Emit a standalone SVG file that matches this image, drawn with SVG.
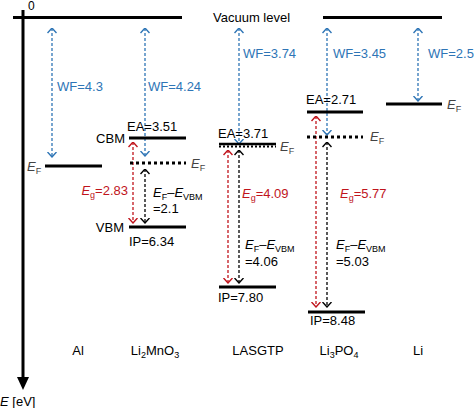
<svg xmlns="http://www.w3.org/2000/svg" width="474" height="408" viewBox="0 0 474 408">
<defs>
<style>
text{font-family:"Liberation Sans",Arial,sans-serif;font-size:13px;fill:#000}
.b{fill:#2e75b6}.r{fill:#c0141c}.g{fill:#444}
.lvl{stroke:#000;stroke-width:3;fill:none}
.dot{stroke:#000;stroke-width:3;stroke-dasharray:3,3;fill:none}
.ab{stroke:#2e75b6;stroke-width:1.3;stroke-dasharray:3,2;fill:none;marker-start:url(#mb);marker-end:url(#mb)}
.ar{stroke:#c0141c;stroke-width:1.3;stroke-dasharray:3,2;fill:none;marker-start:url(#mr);marker-end:url(#mr)}
.ak{stroke:#000;stroke-width:1.3;stroke-dasharray:3,2;fill:none;marker-start:url(#mk);marker-end:url(#mk)}
</style>
<marker id="mb" viewBox="0 0 6 10" refX="5.5" refY="5" markerWidth="6" markerHeight="10" markerUnits="userSpaceOnUse" orient="auto-start-reverse"><path d="M0.5,0.5 L5.5,5 L0.5,9.5" fill="none" stroke="#2e75b6" stroke-width="1.4"/></marker>
<marker id="mr" viewBox="0 0 6 10" refX="5.5" refY="5" markerWidth="6" markerHeight="10" markerUnits="userSpaceOnUse" orient="auto-start-reverse"><path d="M0.5,0.5 L5.5,5 L0.5,9.5" fill="none" stroke="#c0141c" stroke-width="1.4"/></marker>
<marker id="mk" viewBox="0 0 6 10" refX="5.5" refY="5" markerWidth="6" markerHeight="10" markerUnits="userSpaceOnUse" orient="auto-start-reverse"><path d="M0.5,0.5 L5.5,5 L0.5,9.5" fill="none" stroke="#000" stroke-width="1.4"/></marker>
</defs>
<rect width="474" height="408" fill="#fff"/>

<g id="axis">
<line x1="23" y1="10" x2="23" y2="380" stroke="#000" stroke-width="3"/>
<polygon points="17,377 29,377 23,390" fill="#000"/>
<line x1="13" y1="17.5" x2="182" y2="17.5" class="lvl"/>
<text x="28" y="10" style="font-size:12px">0</text>
<text x="0" y="406"><tspan font-style="italic">E</tspan> [eV]</text>
</g>

<g id="vacuum">
<line x1="323" y1="17.5" x2="442" y2="17.5" class="lvl"/>
<text x="213" y="22">Vacuum level</text>
</g>

<g id="connectors">
<line x1="52" y1="28" x2="52" y2="157" class="ab"/>
<line x1="145" y1="28" x2="145" y2="156" class="ab"/>
<line x1="239" y1="28" x2="239" y2="144" class="ab"/>
<line x1="327" y1="28" x2="327" y2="135" class="ab"/>
<line x1="418" y1="28" x2="418" y2="101" class="ab"/>
<line x1="133" y1="142" x2="133" y2="223" class="ar"/>
<line x1="145" y1="169" x2="145" y2="223" class="ak"/>
<line x1="228" y1="150" x2="228" y2="283" class="ar"/>
<line x1="239" y1="150" x2="239" y2="283" class="ak"/>
<line x1="316" y1="116" x2="316" y2="307" class="ar"/>
<line x1="327" y1="142" x2="327" y2="307" class="ak"/>
</g>

<g id="Al">
<line x1="45" y1="166" x2="102" y2="166" class="lvl"/>
<text x="27" y="171" class="g"><tspan font-style="italic">E</tspan><tspan dy="3" style="font-size:9px">F</tspan></text>
<text x="57" y="91" class="b">WF=4.3</text>
<text x="78" y="355" text-anchor="middle">Al</text>
</g>

<g id="Li2MnO3">
<line x1="129" y1="138" x2="186" y2="138" class="lvl"/>
<line x1="130" y1="163" x2="186" y2="163" class="dot"/>
<line x1="129" y1="227" x2="186" y2="227" class="lvl"/>
<text x="148" y="91" class="b">WF=4.24</text>
<text x="127" y="131">EA=3.51</text>
<text x="125" y="143" text-anchor="end">CBM</text>
<text x="124" y="232" text-anchor="end">VBM</text>
<text x="129" y="246">IP=6.34</text>
<text x="191" y="168" class="g"><tspan font-style="italic">E</tspan><tspan dy="3" style="font-size:9px">F</tspan></text>
<text x="128" y="195" text-anchor="end" class="r"><tspan font-style="italic">E</tspan><tspan dy="3" style="font-size:9px">g</tspan><tspan dy="-3">=2.83</tspan></text>
<text x="153" y="197"><tspan font-style="italic">E</tspan><tspan dy="3" style="font-size:9px">F</tspan><tspan dy="-3">–</tspan><tspan font-style="italic">E</tspan><tspan dy="3" style="font-size:9px">VBM</tspan></text>
<text x="153" y="213">=2.1</text>
<text x="155" y="355" text-anchor="middle">Li<tspan dy="3" style="font-size:9px">2</tspan><tspan dy="-3">MnO</tspan><tspan dy="3" style="font-size:9px">3</tspan></text>
</g>

<g id="LASGTP">
<line x1="219" y1="144" x2="276" y2="144" class="lvl" style="stroke-width:2.5"/>
<line x1="219" y1="146.5" x2="276" y2="146.5" class="dot" style="stroke-width:2;stroke-dasharray:2,2"/>
<line x1="219" y1="287" x2="276" y2="287" class="lvl"/>
<text x="243" y="58" class="b">WF=3.74</text>
<text x="218" y="138">EA=3.71</text>
<text x="280" y="151" class="g"><tspan font-style="italic">E</tspan><tspan dy="3" style="font-size:9px">F</tspan></text>
<text x="242" y="198" class="r"><tspan font-style="italic">E</tspan><tspan dy="3" style="font-size:9px">g</tspan><tspan dy="-3">=4.09</tspan></text>
<text x="245" y="249"><tspan font-style="italic">E</tspan><tspan dy="3" style="font-size:9px">F</tspan><tspan dy="-3">–</tspan><tspan font-style="italic">E</tspan><tspan dy="3" style="font-size:9px">VBM</tspan></text>
<text x="245" y="266">=4.06</text>
<text x="218" y="302">IP=7.80</text>
<text x="258" y="355" text-anchor="middle">LASGTP</text>
</g>

<g id="Li3PO4">
<line x1="307" y1="112" x2="363" y2="112" class="lvl"/>
<line x1="307" y1="137" x2="363" y2="137" class="dot"/>
<line x1="308" y1="312" x2="365" y2="312" class="lvl"/>
<text x="333" y="58" class="b">WF=3.45</text>
<text x="306" y="104">EA=2.71</text>
<text x="370" y="141" class="g"><tspan font-style="italic">E</tspan><tspan dy="3" style="font-size:9px">F</tspan></text>
<text x="340" y="198" class="r"><tspan font-style="italic">E</tspan><tspan dy="3" style="font-size:9px">g</tspan><tspan dy="-3">=5.77</tspan></text>
<text x="336" y="249"><tspan font-style="italic">E</tspan><tspan dy="3" style="font-size:9px">F</tspan><tspan dy="-3">–</tspan><tspan font-style="italic">E</tspan><tspan dy="3" style="font-size:9px">VBM</tspan></text>
<text x="336" y="266">=5.03</text>
<text x="310" y="325">IP=8.48</text>
<text x="339" y="355" text-anchor="middle">Li<tspan dy="3" style="font-size:9px">3</tspan><tspan dy="-3">PO</tspan><tspan dy="3" style="font-size:9px">4</tspan></text>
</g>

<g id="Li">
<line x1="386" y1="104" x2="442" y2="104" class="lvl"/>
<text x="428" y="58" class="b">WF=2.5</text>
<text x="447" y="109" class="g"><tspan font-style="italic">E</tspan><tspan dy="3" style="font-size:9px">F</tspan></text>
<text x="418" y="355" text-anchor="middle">Li</text>
</g>
</svg>
